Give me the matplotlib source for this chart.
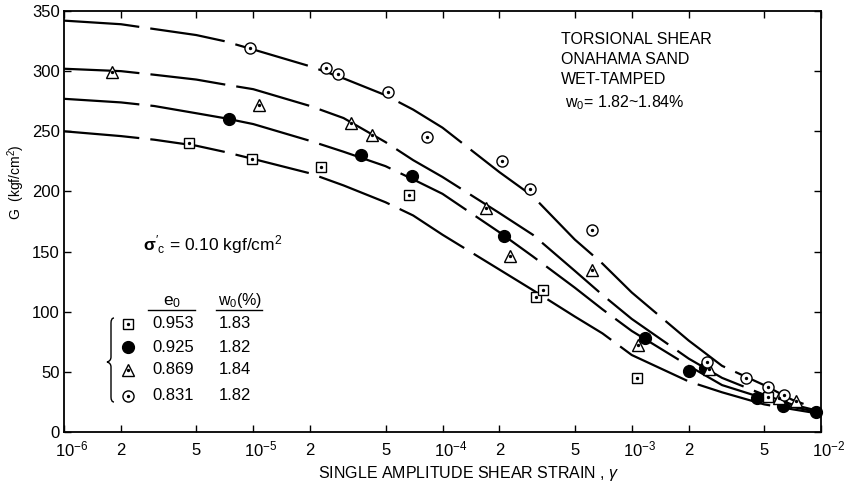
import numpy as np
import matplotlib
matplotlib.use('Agg')
import matplotlib.pyplot as plt
from matplotlib.lines import Line2D
from matplotlib.path import Path
from matplotlib.patches import PathPatch
from matplotlib.ticker import NullLocator
from matplotlib.transforms import ScaledTranslation

plt.rcParams['font.family'] = ['Liberation Sans', 'DejaVu Sans']
plt.rcParams['mathtext.fontset'] = 'custom'
plt.rcParams['mathtext.rm'] = 'Liberation Sans'
plt.rcParams['mathtext.it'] = 'Liberation Sans:italic'
plt.rcParams['mathtext.bf'] = 'Liberation Sans:bold'

strain_curve = [1e-6, 2e-6, 3e-6, 5e-6, 7e-6, 1e-5, 2e-5, 3e-5, 5e-5, 7e-5,
                1e-4, 2e-4, 3e-4, 5e-4, 7e-4, 1e-3, 2e-3, 3e-3, 5e-3, 7e-3, 1e-2]
curve_0831 = [342, 339, 335, 330, 325, 318, 304, 294, 280, 268,
              253, 216, 196, 160, 140, 116, 76, 55, 39, 27, 18]
curve_0869 = [302, 300, 297, 293, 289, 285, 271, 261, 241, 226,
              212, 182, 164, 134, 114, 94, 61, 45, 31, 23, 17]
curve_0925 = [277, 274, 271, 265, 261, 256, 242, 233, 221, 210,
              198, 166, 146, 120, 102, 84, 55, 39, 28, 21, 16]
curve_0953 = [250, 246, 243, 238, 233, 227, 215, 205, 191, 180,
              164, 135, 118, 96, 82, 64, 42, 33, 23, 19, 15]

# measured points
gam_sq = [4.57e-6, 9.85e-6, 2.28e-5, 6.65e-5, 3.12e-4, 3.4e-4, 1.07e-3, 5.25e-3]
G_sq = [240, 227, 220, 197, 112, 118, 45, 29]
gam_fc = [7.45e-6, 3.71e-5, 6.9e-5, 2.11e-4, 1.17e-3, 2.0e-3, 2.44e-3, 4.6e-3, 6.3e-3, 9.4e-3]
G_fc = [260, 230, 213, 163, 78, 51, 53, 28, 22, 17]
gam_tr = [1.79e-6, 1.07e-5, 3.29e-5, 4.24e-5, 1.7e-4, 2.27e-4, 6.17e-4, 1.08e-3, 2.56e-3, 6.0e-3, 7.4e-3]
G_tr = [299, 272, 257, 247, 186, 146, 135, 72, 52, 28, 26]
gam_ci = [0.96e-5, 2.42e-5, 2.8e-5, 5.15e-5, 8.3e-5, 2.06e-4, 2.9e-4, 6.17e-4, 2.5e-3, 4.0e-3, 5.25e-3, 6.4e-3]
G_ci = [319, 303, 298, 283, 245, 225, 202, 168, 58, 45, 37, 31]

e0_list = ['0.953', '0.925', '0.869', '0.831']
w0_list = ['1.83', '1.82', '1.84', '1.82']

xticks = [1e-6, 2e-6, 5e-6, 1e-5, 2e-5, 5e-5, 1e-4, 2e-4, 5e-4, 1e-3, 2e-3, 5e-3, 1e-2]
xlabels = ['', '2', '5', '', '2', '5', '', '2', '5', '', '2', '5', '']
decades = [1e-6, 1e-5, 1e-4, 1e-3, 1e-2]
decade_labels = [r'$\mathregular{10^{-6}}$', r'$\mathregular{10^{-5}}$', r'$\mathregular{10^{-4}}$',
                 r'$\mathregular{10^{-3}}$', r'$\mathregular{10^{-2}}$']

W, H = 847, 486
fig = plt.figure(figsize=(W / 100, H / 100), dpi=100)
ax = fig.add_axes([64 / W, 54 / H, 757 / W, 421 / H])


def fx(px):
    return px / W


def fy(py):
    return 1 - py / H


dash = (0, (34, 5))
for ys in [curve_0831, curve_0869, curve_0925, curve_0953]:
    ax.plot(strain_curve, ys, color='black', lw=1.6, linestyle=dash, zorder=1)

mk = dict(color='black', linestyle='none', mec='black', mew=1.0, zorder=3, clip_on=False)
ax.plot(gam_sq, G_sq, marker='s', ms=7, mfc='white', **mk)
ax.plot(gam_fc, G_fc, marker='o', ms=8.5, mfc='black', **mk)
ax.plot(gam_tr, G_tr, marker='^', ms=9, mfc='white', **mk)
ax.plot(gam_ci, G_ci, marker='o', ms=8, mfc='white', **mk)
for g, v in [(gam_sq, G_sq), (gam_tr, G_tr), (gam_ci, G_ci)]:
    ax.plot(g, v, marker='o', ms=1.4, color='black', linestyle='none', zorder=4, clip_on=False)

ax.set_xscale('log')
ax.set_xlim(1e-6, 1e-2)
ax.set_ylim(0, 350)
ax.set_xticks(xticks)
ax.set_xticklabels(xlabels)
ax.xaxis.set_minor_locator(NullLocator())
ax.set_yticks(np.arange(0, 351, 50))
ax.tick_params(direction='in', top=True, right=True, length=5, width=1, labelsize=12)
ax.tick_params(axis='x', pad=8)
ax.tick_params(axis='y', pad=3)
for s in ax.spines.values():
    s.set_linewidth(1.3)

# decade labels: "10" centred on the tick, exponent hanging to the right
off = ScaledTranslation(-9 / 100, -7 / 100, fig.dpi_scale_trans)
for t, lab in zip(decades, decade_labels):
    ax.text(t, 0, lab, transform=ax.get_xaxis_transform() + off,
            ha='left', va='top', fontsize=12)

fig.text(fx(318), fy(478), r'SINGLE AMPLITUDE SHEAR STRAIN , $\mathit{\gamma}$',
         fontsize=11.5, ha='left', va='baseline')
fig.text(fx(16), fy(182), r'G  (kgf/cm$\mathregular{^2}$)', rotation=90,
         ha='center', va='center', fontsize=10)

# annotation block top right
for i, t in enumerate(['TORSIONAL SHEAR', 'ONAHAMA SAND', 'WET-TAMPED']):
    fig.text(fx(561), fy(44 + 20 * i), t, fontsize=11.5, ha='left', va='baseline')
fig.text(fx(565), fy(107), r'$\mathregular{w_0}$= 1.82~1.84%', fontsize=11.5,
         ha='left', va='baseline')

fig.text(fx(143), fy(250), r"$\mathbf{\sigma}'_{\mathregular{c}}$ = 0.10 kgf/cm$\mathregular{^2}$",
         fontsize=12.5, ha='left', va='baseline')

# legend table
fig.text(fx(172), fy(305), r'$\mathregular{e_0}$', fontsize=12.5, ha='center', va='baseline')
fig.text(fx(240), fy(305), r'$\mathregular{w_0(\%)}$', fontsize=11.5, ha='center', va='baseline')
fig.add_artist(Line2D([fx(148), fx(195)], [fy(310), fy(310)], color='black', lw=1,
                      transform=fig.transFigure))
fig.add_artist(Line2D([fx(216), fx(262)], [fy(310), fy(310)], color='black', lw=1,
                      transform=fig.transFigure))
rows_y = [324, 347, 370, 396]
leg_style = [dict(marker='s', ms=7, mfc='white'), dict(marker='o', ms=8.5, mfc='black'),
             dict(marker='^', ms=9, mfc='white'), dict(marker='o', ms=8, mfc='white')]
for ry, st, e0, w0 in zip(rows_y, leg_style, e0_list, w0_list):
    fig.add_artist(Line2D([fx(128)], [fy(ry)], color='black', mec='black', mew=1.0,
                          transform=fig.transFigure, linestyle='none', **st))
    if st['mfc'] == 'white':
        fig.add_artist(Line2D([fx(128)], [fy(ry)], marker='o', ms=1.4, color='black',
                              transform=fig.transFigure, linestyle='none'))
    fig.text(fx(152), fy(ry), e0, fontsize=12, ha='left', va='center')
    fig.text(fx(219), fy(ry), w0, fontsize=12, ha='left', va='center')

# curly brace
tip = 107
verts = [(114, 318), (111, 318), (111, 323), (111, 357), (111, 361), (tip, 362),
         (111, 363), (111, 367), (111, 397), (111, 402), (114, 402)]
codes = [Path.MOVETO, Path.CURVE3, Path.CURVE3, Path.LINETO, Path.CURVE3, Path.CURVE3,
         Path.CURVE3, Path.CURVE3, Path.LINETO, Path.CURVE3, Path.CURVE3]
verts = [(fx(a), fy(b)) for a, b in verts]
fig.add_artist(PathPatch(Path(verts, codes), fill=False, lw=1.0, edgecolor='black',
                         transform=fig.transFigure))

fig.savefig('out.png', dpi=100)
